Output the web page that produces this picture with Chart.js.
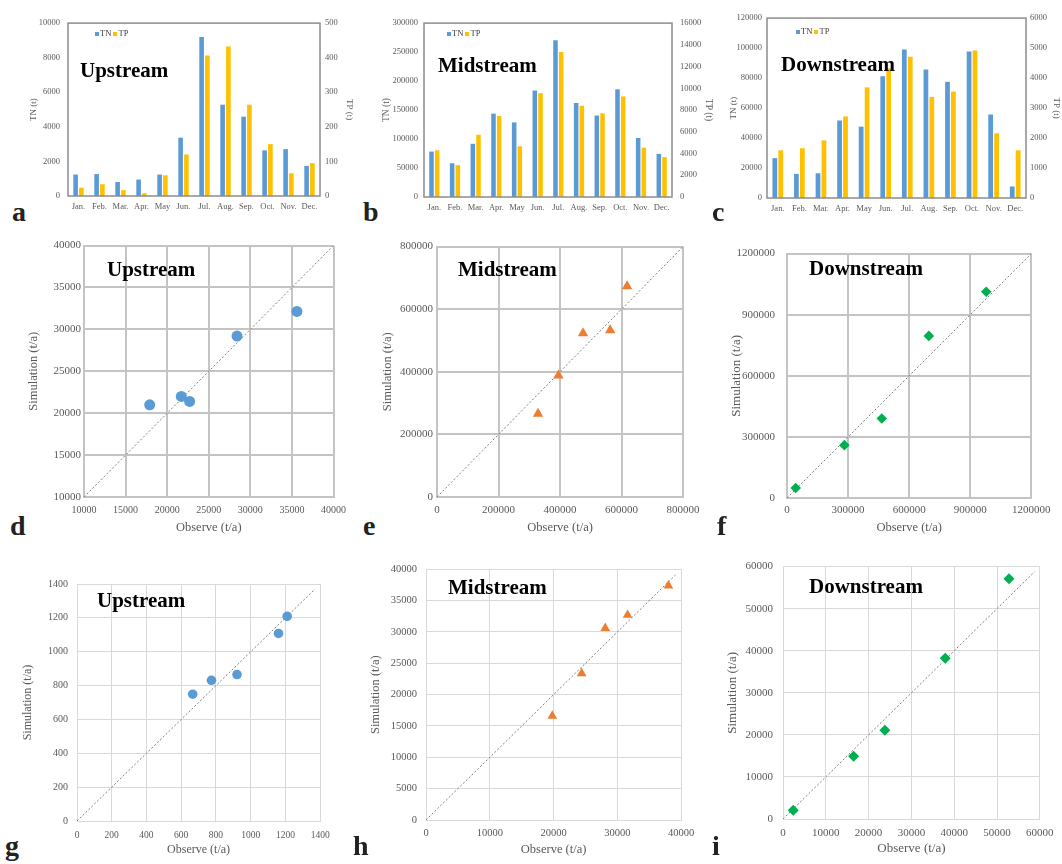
<!DOCTYPE html>
<html>
<head>
<meta charset="utf-8">
<script src="https://cdn.jsdelivr.net/npm/chart.js@4.4.0/dist/chart.umd.min.js"></script>
<style>
body { margin:0; width:1062px; height:864px; background:#fff; position:relative; overflow:hidden; font-family:"Liberation Serif", "Times New Roman", serif; }
canvas { position:absolute; }
.lbl { position:absolute; font-weight:bold; font-size:21px; line-height:21px; color:#000; white-space:nowrap; }
.pl { position:absolute; font-weight:bold; font-size:28px; line-height:28px; color:#222; white-space:nowrap; }
.lg { position:absolute; font-size:8.5px; line-height:8px; color:#404040; white-space:nowrap; }
.lg i { display:inline-block; width:4px; height:4px; margin-right:1px; }
</style>
</head>
<body>
<canvas id="a"></canvas><canvas id="b"></canvas><canvas id="c"></canvas>
<canvas id="d"></canvas><canvas id="e"></canvas><canvas id="f"></canvas>
<canvas id="g"></canvas><canvas id="h"></canvas><canvas id="i"></canvas>

<div class="lbl" style="left:80px;top:60px">Upstream</div>
<div class="lbl" style="left:438px;top:55px">Midstream</div>
<div class="lbl" style="left:781px;top:54px">Downstream</div>
<div class="lbl" style="left:107px;top:259px">Upstream</div>
<div class="lbl" style="left:458px;top:259px">Midstream</div>
<div class="lbl" style="left:809px;top:258px">Downstream</div>
<div class="lbl" style="left:97px;top:590px">Upstream</div>
<div class="lbl" style="left:448px;top:577px">Midstream</div>
<div class="lbl" style="left:809px;top:576px">Downstream</div>

<div class="pl" style="left:12px;top:198px">a</div>
<div class="pl" style="left:363px;top:198px">b</div>
<div class="pl" style="left:712px;top:198px">c</div>
<div class="pl" style="left:10px;top:512px">d</div>
<div class="pl" style="left:363px;top:512px">e</div>
<div class="pl" style="left:717px;top:512px">f</div>
<div class="pl" style="left:5px;top:832px">g</div>
<div class="pl" style="left:353px;top:832px">h</div>
<div class="pl" style="left:712px;top:832px">i</div>

<script>
// monthly loads (t)
var meses = ['Jan.', 'Feb.', 'Mar.', 'Apr.', 'May', 'Jun.', 'Jul.', 'Aug.', 'Sep.', 'Oct.', 'Nov.', 'Dec.'];
var upTN = [1240, 1270, 810, 950, 1240, 3370, 9200, 5280, 4590, 2640, 2710, 1740];
var upTP = [24, 34, 17, 8, 60, 120, 406, 432, 264, 150, 66, 95];
var midTN = [78400, 58200, 91800, 143800, 128700, 183600, 270300, 162300, 140500, 185800, 101900, 74400];
var midTP = [4300, 2930, 5730, 7460, 4660, 9550, 13340, 8390, 7700, 9250, 4540, 3670];
var downTN = [26600, 16100, 16500, 51700, 47600, 81200, 99100, 85700, 77500, 97800, 55700, 7700];
var downTP = [1590, 1660, 1920, 2720, 3690, 4330, 4710, 3370, 3550, 4920, 2160, 1590];

// observed vs simulated (t/a)
var tnUpObs = [17900, 21700, 22700, 28400, 35600];
var tnUpSim = [21000, 22000, 21400, 29200, 32150];
var tnMidObs = [328400, 394700, 474700, 563000, 617900];
var tnMidSim = [266300, 387800, 523100, 532600, 673200];
var tnDownObs = [42700, 281800, 465400, 696600, 978400];
var tnDownSim = [48800, 259500, 390000, 795800, 1012800];
var tpUpObs = [666, 774, 921, 1160, 1210];
var tpUpSim = [749, 831, 865, 1108, 1209];
var tpMidObs = [19800, 24400, 28100, 31600, 38000];
var tpMidSim = [16600, 23400, 30600, 32700, 37400];
var tpDownObs = [2400, 16500, 23800, 37900, 52800];
var tpDownSim = [2100, 14900, 21100, 38200, 57100];

// 1:1 lines
var linhaD = [10000, 40000];
var linhaE = [0, 800000];
var linhaF = [0, 1200000];
var linhaG = [0, 1370];
var linhaH = [0, 39100];
var linhaI = [0, 58800];

var serif = "'Liberation Serif', 'Times New Roman', serif";
var cinza = '#595959';
var azul = '#5B9BD5', amarelo = '#FFC000', laranja = '#ED7D31', verde = '#00B050';

function fonte(s) { return { family: serif, size: s, lineHeight: 1.2 }; }
function num(v) { return String(v); }

// places the canvas so the plot area lands on L,T,R,B
function montar(id, g) {
    var c = document.getElementById(id);
    var left = Math.round(g.yTitleX - g.yTitle * 0.6);
    var top = g.T - 8;
    var right = g.y2TitleX ? g.y2TitleX + g.y2Title * 0.6 : g.R + 16;
    var bottom = g.xTitleY ? g.xTitleY + g.xTitle * 0.6 : g.xTickY + g.xTick * 0.6 + 3;
    var w = Math.round(right - left), h = Math.round(bottom - top);
    c.width = w; c.height = h;
    c.style.left = left + 'px'; c.style.top = top + 'px';
    return {
        el: c,
        yW: g.L - left,
        rW: left + w - g.R,
        xH: top + h - g.B,
        yPad: g.L - g.yTickR,
        y2Pad: g.y2TickL ? g.y2TickL - g.R : 0,
        xPad: g.xTickY - g.B - g.xTick * 0.6
    };
}

var moldura = {
    id: 'moldura',
    afterDraw: function (chart) {
        var a = chart.chartArea, ctx = chart.ctx;
        ctx.save();
        ctx.strokeStyle = '#8c8c8c';
        ctx.lineWidth = 1.5;
        ctx.strokeRect(a.left, a.top, a.right - a.left, a.bottom - a.top);
        ctx.restore();
    }
};

function legenda(chart, x, y) {
    var d = document.createElement('div');
    d.className = 'lg';
    d.style.left = x + 'px';
    d.style.top = y + 'px';
    chart.data.datasets.forEach(function (ds) {
        d.innerHTML += '<i style="background:' + ds.backgroundColor + '"></i>' + ds.label + '&nbsp;';
    });
    document.body.appendChild(d);
}

function barras(id, g, tn, tp, tnMax, tnStep, tpMax, tpStep) {
    var p = montar(id, g);
    return new Chart(p.el, {
        type: 'bar',
        data: {
            labels: meses,
            datasets: [
                { label: 'TN', data: tn, backgroundColor: azul, yAxisID: 'y', categoryPercentage: 0.55, barPercentage: 0.8 },
                { label: 'TP', data: tp, backgroundColor: amarelo, yAxisID: 'y2', categoryPercentage: 0.55, barPercentage: 0.8 }
            ]
        },
        options: {
            responsive: false,
            animation: false,
            layout: { padding: { top: 8, left: 0, right: 0, bottom: 0 } },
            plugins: { legend: { display: false }, tooltip: { enabled: false } },
            scales: {
                x: {
                    grid: { display: false, drawTicks: false },
                    border: { display: false },
                    ticks: { font: fonte(g.xTick), color: cinza, padding: p.xPad, maxRotation: 0, autoSkip: false },
                    afterFit: function (s) { s.height = p.xH; }
                },
                y: {
                    position: 'left', min: 0, max: tnMax,
                    grid: { display: false, drawTicks: false },
                    border: { display: false },
                    ticks: { stepSize: tnStep, font: fonte(g.yTick), color: cinza, padding: p.yPad, callback: num },
                    title: { display: true, text: 'TN (t)', font: fonte(g.yTitle), color: cinza, padding: 0 },
                    afterFit: function (s) { s.width = p.yW; }
                },
                y2: {
                    position: 'right', min: 0, max: tpMax,
                    grid: { display: false, drawTicks: false },
                    border: { display: false },
                    ticks: { stepSize: tpStep, font: fonte(g.yTick), color: cinza, padding: p.y2Pad, callback: num },
                    title: { display: true, text: 'TP (t)', font: fonte(g.y2Title), color: cinza, padding: 0 },
                    afterFit: function (s) { s.width = p.rW; }
                }
            }
        },
        plugins: [moldura]
    });
}

function dispersao(id, g, obs, sim, linha, min, max, xStep, yStep, estilo) {
    var p = montar(id, g);
    var pontos = obs.map(function (v, k) { return { x: v, y: sim[k] }; });
    var reta = linha.map(function (v) { return { x: v, y: v }; });
    return new Chart(p.el, {
        type: 'scatter',
        data: {
            datasets: [
                { data: pontos, pointStyle: estilo.forma, pointRadius: estilo.raio, backgroundColor: estilo.cor, borderColor: estilo.cor, borderWidth: 0 },
                { data: reta, showLine: true, pointRadius: 0, borderColor: '#7f7f7f', borderWidth: 1, borderDash: [2, 2] }
            ]
        },
        options: {
            responsive: false,
            animation: false,
            layout: { padding: { top: 8, left: 0, right: p.rW, bottom: 0 } },
            plugins: { legend: { display: false }, tooltip: { enabled: false } },
            scales: {
                x: {
                    min: min, max: max,
                    grid: { color: g.grade, lineWidth: g.gradeW, drawTicks: false },
                    border: { display: true, color: g.grade, width: g.gradeW },
                    ticks: { stepSize: xStep, font: fonte(g.xTick), color: cinza, padding: p.xPad, maxRotation: 0, callback: num },
                    title: { display: true, text: 'Observe (t/a)', font: fonte(g.xTitle), color: cinza, padding: 0 },
                    afterFit: function (s) { s.height = p.xH; }
                },
                y: {
                    min: min, max: max,
                    grid: { color: g.grade, lineWidth: g.gradeW, drawTicks: false },
                    border: { display: true, color: g.grade, width: g.gradeW },
                    ticks: { stepSize: yStep, font: fonte(g.yTick), color: cinza, padding: p.yPad, callback: num },
                    title: { display: true, text: 'Simulation (t/a)', font: fonte(g.yTitle), color: cinza, padding: 0 },
                    afterFit: function (s) { s.width = p.yW; }
                }
            }
        }
    });
}

// top row: monthly TN / TP
var ga = { L: 68, T: 18, R: 320, B: 196, yTitleX: 33, yTickR: 60, y2TickL: 325, y2TitleX: 350, xTickY: 207, xTick: 8.5, yTick: 8.5, yTitle: 9, y2Title: 9 };
var gb = { L: 424, T: 18, R: 672, B: 197, yTitleX: 387, yTickR: 418, y2TickL: 680, y2TitleX: 708, xTickY: 208, xTick: 8.5, yTick: 8.5, yTitle: 9.5, y2Title: 9.5 };
var gc = { L: 767, T: 16, R: 1026, B: 198, yTitleX: 733, yTickR: 762, y2TickL: 1030, y2TitleX: 1057, xTickY: 209, xTick: 8.5, yTick: 8.5, yTitle: 9, y2Title: 9 };

var chartA = barras('a', ga, upTN, upTP, 10000, 2000, 500, 100);
var chartB = barras('b', gb, midTN, midTP, 300000, 50000, 16000, 2000);
var chartC = barras('c', gc, downTN, downTP, 120000, 20000, 6000, 1000);
legenda(chartA, 95, 29);
legenda(chartB, 447, 29);
legenda(chartC, 796, 27);

// middle row: TN, bottom row: TP
var gradeGrossa = '#c4c4c4', gradeFina = '#d9d9d9';
var gd = { L: 84, T: 244, R: 337, B: 497, yTitleX: 33, yTickR: 81, xTickY: 510, xTitleY: 527, xTick: 10, yTick: 11, xTitle: 12.5, yTitle: 12.5, grade: gradeGrossa, gradeW: 2 };
var ge = { L: 437, T: 244, R: 690, B: 497, yTitleX: 387, yTickR: 433, xTickY: 510, xTitleY: 527, xTick: 11, yTick: 11, xTitle: 12.5, yTitle: 12.5, grade: gradeGrossa, gradeW: 2 };
var gf = { L: 787, T: 243, R: 1040, B: 498, yTitleX: 737, yTickR: 775, xTickY: 510, xTitleY: 527, xTick: 11, yTick: 11, xTitle: 12.5, yTitle: 13, grade: gradeGrossa, gradeW: 2 };
var gg = { L: 77, T: 577, R: 322, B: 821, yTitleX: 28, yTickR: 68, xTickY: 835, xTitleY: 850, xTick: 9.5, yTick: 10, xTitle: 12, yTitle: 12, grade: gradeFina, gradeW: 1 };
var gh = { L: 426, T: 562, R: 685, B: 820, yTitleX: 375, yTickR: 417, xTickY: 833, xTitleY: 849, xTick: 10.5, yTick: 10.5, xTitle: 12.5, yTitle: 12.5, grade: gradeFina, gradeW: 1 };
var gi = { L: 783, T: 558, R: 1045, B: 819, yTitleX: 733, yTickR: 773, xTickY: 833, xTitleY: 848, xTick: 11, yTick: 11, xTitle: 13, yTitle: 13, grade: gradeFina, gradeW: 1 };

dispersao('d', gd, tnUpObs, tnUpSim, linhaD, 10000, 40000, 5000, 5000, { forma: 'circle', raio: 5.5, cor: azul });
dispersao('e', ge, tnMidObs, tnMidSim, linhaE, 0, 800000, 200000, 200000, { forma: 'triangle', raio: 6, cor: laranja });
dispersao('f', gf, tnDownObs, tnDownSim, linhaF, 0, 1200000, 300000, 300000, { forma: 'rectRot', raio: 5.3, cor: verde });
dispersao('g', gg, tpUpObs, tpUpSim, linhaG, 0, 1400, 200, 200, { forma: 'circle', raio: 4.8, cor: azul });
dispersao('h', gh, tpMidObs, tpMidSim, linhaH, 0, 40000, 10000, 5000, { forma: 'triangle', raio: 5.6, cor: laranja });
dispersao('i', gi, tpDownObs, tpDownSim, linhaI, 0, 60000, 10000, 10000, { forma: 'rectRot', raio: 5.5, cor: verde });
</script>
</body>
</html>
